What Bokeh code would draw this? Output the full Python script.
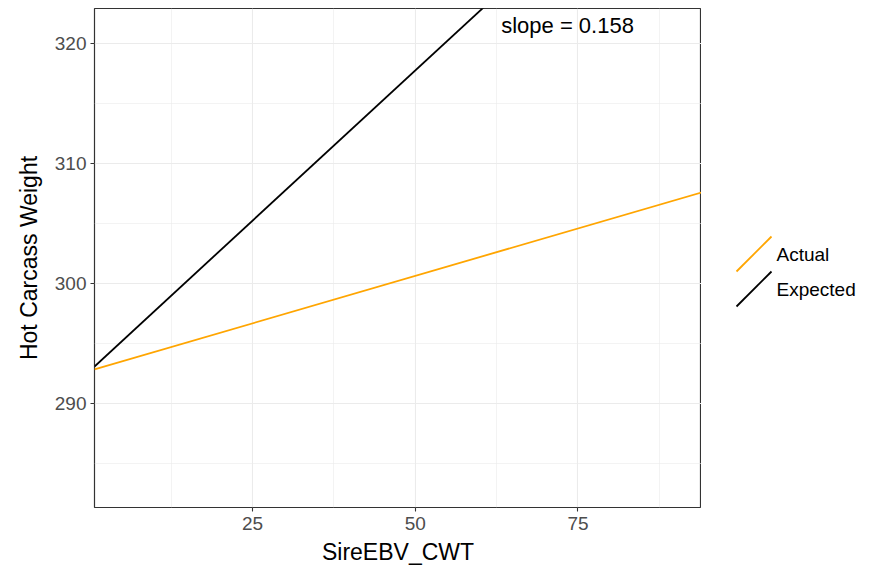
from bokeh.plotting import figure
from bokeh.layouts import row
from bokeh.models import FixedTicker, Label, Range1d
from bokeh.core.properties import value
from bokeh.embed import file_html
from bokeh.resources import INLINE

# Fitted regression lines of hot carcass weight on sire EBV
series_names = ["Actual", "Expected"]
intercepts = [292.73, 292.73]
slopes = [0.158, 0.5]
series_colors = ["#FFA500", "#000000"]

# Axis limits and ticks
x_limits = [0.72, 93.98]
y_limits = [281.35, 322.89]
x_ticks = [25, 50, 75]
x_minor = [12.5, 37.5, 62.5, 87.5]
y_ticks = [290, 300, 310, 320]
y_minor = [285, 295, 305, 315]

# Position of the slope annotation (data units)
note_x, note_y = 73.4, 321.47

FONT = "Liberation Sans"
TOP, BOTTOM, HEIGHT = 8, 65, 572
FRAME_H = HEIGHT - TOP - BOTTOM

p = figure(
    width=701, height=HEIGHT,
    x_range=Range1d(*x_limits), y_range=Range1d(*y_limits),
    output_backend="svg", toolbar_location=None,
    min_border_left=94, min_border_right=0,
    min_border_top=TOP, min_border_bottom=BOTTOM,
    background_fill_color="white", border_fill_color="white",
)

p.xaxis.ticker = FixedTicker(ticks=x_ticks, minor_ticks=x_minor)
p.yaxis.ticker = FixedTicker(ticks=y_ticks, minor_ticks=y_minor)

for grid in (p.xgrid, p.ygrid):
    grid.grid_line_color = "#EBEBEB"
    grid.grid_line_width = 1.1
    grid.minor_grid_line_color = "#EBEBEB"
    grid.minor_grid_line_width = 0.6

for ax in (p.xaxis, p.yaxis):
    ax.axis_line_color = None
    ax.major_tick_line_color = "#333333"
    ax.major_tick_line_width = 1.1
    ax.major_tick_out = 4
    ax.major_tick_in = 0
    ax.minor_tick_line_color = None
    ax.major_label_text_color = "#4D4D4D"
    ax.major_label_text_font = FONT
    ax.major_label_text_font_size = "19px"
    ax.axis_label_text_font = FONT
    ax.axis_label_text_font_size = "23px"
    ax.axis_label_text_font_style = "normal"
    ax.axis_label_text_color = "#000000"

p.xaxis.axis_label = "SireEBV_CWT"
p.yaxis.axis_label = "Hot Carcass Weight"
p.xaxis.major_label_standoff = 5
p.yaxis.major_label_standoff = 4
p.xaxis.axis_label_standoff = 6
p.yaxis.axis_label_standoff = 10

p.outline_line_color = "#333333"
p.outline_line_width = 1.2

# Each line spans the full x range: y = intercept + slope * x
for name, b0, b1, col in zip(series_names, intercepts, slopes, series_colors):
    xs = list(x_limits)
    ys = [b0 + b1 * x for x in xs]
    p.line(xs, ys, line_color=col, line_width=1.8)

p.add_layout(Label(
    x=note_x, y=note_y, text=f"slope = {slopes[0]:.3f}",
    text_align="center", text_baseline="middle",
    text_font=FONT, text_font_size="22px", text_color="#000000",
))

# Legend panel with diagonal keys; its coordinates are page pixels
key_left, key_size, first_center, row_step = 35, 35, 253.5, 35
leg = figure(
    width=182, height=HEIGHT,
    x_range=Range1d(0, 182), y_range=Range1d(TOP + FRAME_H, TOP),
    output_backend="svg", toolbar_location=None,
    min_border_left=0, min_border_right=0,
    min_border_top=TOP, min_border_bottom=BOTTOM,
    outline_line_color=None,
    background_fill_color="white", border_fill_color="white",
)
leg.xaxis.visible = False
leg.yaxis.visible = False
leg.xgrid.visible = False
leg.ygrid.visible = False

centers = [first_center + i * row_step for i in range(len(series_names))]
leg.segment(
    x0=[key_left] * len(centers), y0=[c + key_size / 2 for c in centers],
    x1=[key_left + key_size] * len(centers), y1=[c - key_size / 2 for c in centers],
    line_color=series_colors, line_width=1.8,
)
leg.text(
    x=[key_left + key_size + 5] * len(centers), y=centers, text=series_names,
    text_font=value(FONT), text_font_size="19px", text_baseline="middle",
    text_align="left", text_color="#000000",
)

layout = row(p, leg)
open("out.html", "w").write(file_html(layout, INLINE))
